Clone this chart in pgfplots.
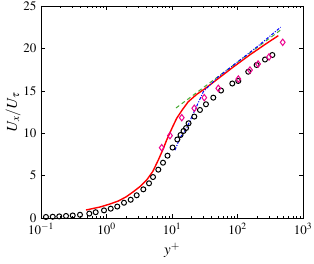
\documentclass[border=0pt]{standalone}
\usepackage{mathptmx}
\usepackage{fontspec}
\setmainfont{Liberation Serif}
\usepackage{pgfplots}
\pgfplotsset{compat=1.18}
\definecolor{mgreen}{RGB}{70,170,50}
\begin{document}
\begin{tikzpicture}
\begin{axis}[
  scale only axis, width=262pt, height=212pt,
  xmode=log, xmin=0.1, xmax=1000, ymin=0, ymax=25,
  ytick={0,5,10,15,20,25},
  xtick={0.1,1,10,100,1000},
  tick align=inside, tick pos=both,
  major tick length=4pt, minor tick length=2.2pt,
  tick style={line width=0.5pt, black},
  axis line style={line width=0.9pt},
  tick label style={font=\fontsize{13}{14}\selectfont},
  label style={font=\fontsize{15}{16}\selectfont},
  xlabel={$y^+$}, ylabel={$U_x/U_\tau$},
  xlabel style={yshift=-1pt},
  ylabel style={yshift=-4pt},
  yticklabel style={xshift=-1pt},
  xticklabel style={yshift=-2pt},
  clip=false,
]
\addplot[red, line width=1.4pt] coordinates {
(0.486,0.94) (0.80,1.3) (1.13,1.65) (1.51,2.0) (2.0,2.5) (2.57,3.1) (3.3,3.75) (4.11,4.48) (5.1,5.5) (6.18,6.84) (7.2,8.0) (8.30,9.2) (10.0,10.6) (11.8,11.76) (14.5,12.8) (17.7,13.71) (24,14.6) (31.9,15.25) (48,16.3) (86,17.8) (155,19.25) (279,20.6) (420,21.5)
};
\addplot[mgreen, line width=1pt, dash pattern=on 4pt off 3pt] coordinates {
(11.5,12.97) (20,14.35) (50,16.65) (100,18.38) (200,20.11) (456,22.17)
};
\addplot[blue, line width=1pt, dash pattern=on 3pt off 1.5pt on 1pt off 1.5pt] coordinates {
(11.1,8.0) (13.2,9.43) (16.7,10.58) (22.4,12.74) (30.1,14.9) (50,16.6) (100,18.4) (200,20.2) (456,22.5)
};
\addplot[only marks, mark=o, mark size=2.5pt, line width=1pt, black] coordinates {
(0.119,0.12) (0.151,0.15) (0.190,0.19) (0.241,0.24) (0.305,0.30) (0.394,0.38) (0.546,0.52) (0.684,0.68) (0.916,0.90) (1.16,1.10) (1.46,1.35) (1.85,1.80) (2.34,2.15) (2.89,2.68) (3.65,3.38) (4.46,4.09) (5.13,4.83) (6.18,5.70) (7.29,6.52) (8.54,7.35) (10.2,8.31) (12.06,9.26) (13.5,9.79) (15.0,10.26) (16.4,10.61) (17.9,11.17) (21.9,11.96) (26.7,12.74) (33.0,13.41) (42.7,14.19) (56.0,15.03) (83.3,15.86) (102.8,16.16) (146,17.25) (196,18.04) (263,18.69) (340,19.22)
};
\addplot[only marks, mark=diamond, mark size=3.2pt, line width=1pt, magenta] coordinates {
(6.96,8.29) (9.31,9.71) (14.1,11.83) (21.9,12.94) (31.1,14.19) (50.9,15.29) (103,16.39) (155,17.45) (206,18.16) (303,18.99) (490,20.72)
};
\end{axis}
\pgfresetboundingbox
\path (-41pt,-46pt) rectangle (273pt,218pt);
\end{tikzpicture}
\end{document}
